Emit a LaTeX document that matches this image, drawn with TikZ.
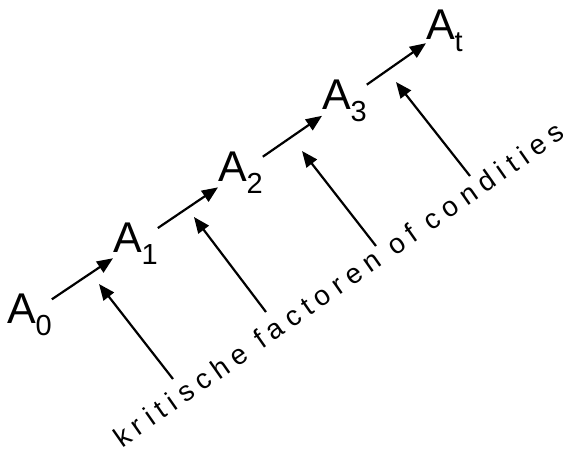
\documentclass[tikz,border=0pt]{standalone}
\usepackage{fontspec}
\setmainfont{Liberation Sans}
\usetikzlibrary{arrows.meta}
\newcommand\subidx[1]{\raisebox{-12pt}{\fontsize{29}{29}\selectfont #1}}
\begin{document}
\begin{tikzpicture}[x=1pt,y=-1pt,
  anode/.style={inner sep=0pt, outer sep=0pt, anchor=base west, font=\fontsize{43}{43}\selectfont},
  conn/.style={-{Triangle[length=16pt,width=13pt]}, line width=2.2pt},
  ftext/.style={inner sep=0pt, outer sep=0pt, anchor=base west, rotate=35,
    font=\fontsize{28}{28}\selectfont\addfontfeature{LetterSpace=24}}]
\useasboundingbox (0,0) rectangle (563,450);
\node[anode] (a0) at (7,323) {A\subidx{0}};
\node[anode] (a1) at (113,252) {A\subidx{1}};
\node[anode] (a2) at (218,181) {A\subidx{2}};
\node[anode] (a3) at (322,109) {A\subidx{3}};
\node[anode] (at) at (426,39) {A\subidx{t}};
\draw[conn] (a0) -- (a1);
\draw[conn] (a1) -- (a2);
\draw[conn] (a2) -- (a3);
\draw[conn] (a3) -- (at);
\coordinate (f1) at (173,379); \coordinate (t1) at (99,284);
\coordinate (f2) at (266,312); \coordinate (t2) at (194,217);
\coordinate (f3) at (376,246); \coordinate (t3) at (302,151);
\coordinate (f4) at (470,176); \coordinate (t4) at (396,82);
\draw[conn] (f1) -- (t1);
\draw[conn] (f2) -- (t2);
\draw[conn] (f3) -- (t3);
\draw[conn] (f4) -- (t4);
\node[ftext] (txt) at (122,448) {kritische factoren of condities};
\end{tikzpicture}
\end{document}
